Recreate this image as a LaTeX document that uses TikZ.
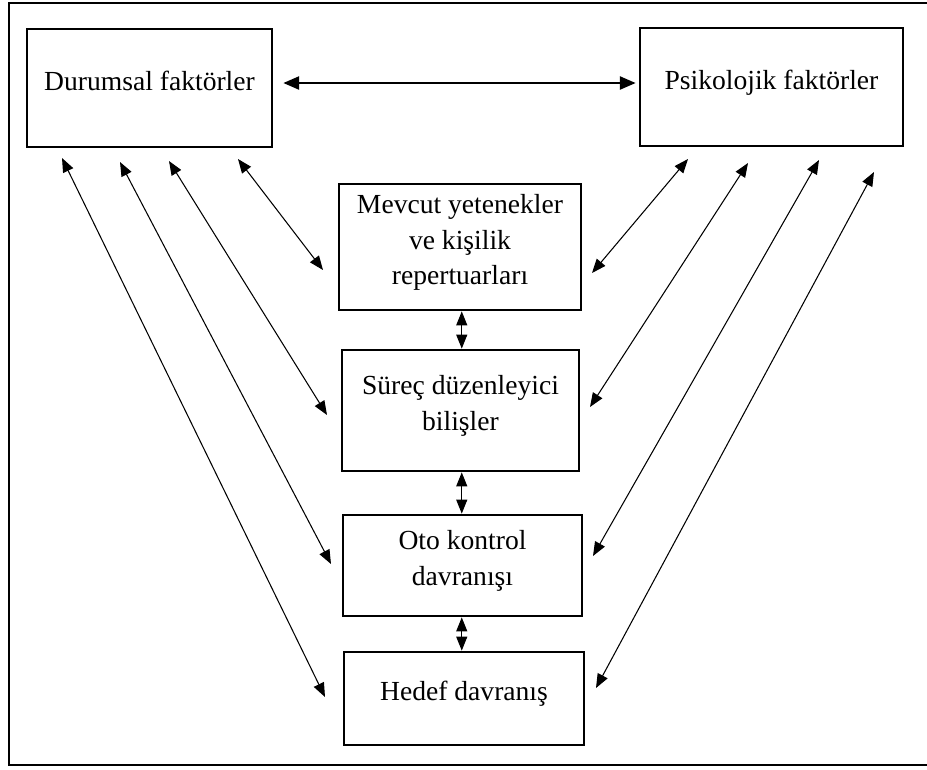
\documentclass[tikz,border=0pt]{standalone}
\usepackage{fontspec}
\setmainfont{Liberation Serif}
\usetikzlibrary{positioning, arrows.meta}

\begin{document}
\begin{tikzpicture}[x=0.02cm, y=-0.02cm, >=Triangle,
    box/.style={draw, line width=1.6pt, rectangle, align=center, inner sep=0pt,
      text depth=0.3cm, font=\fontsize{15.7}{20.4}\selectfont},
    link/.style={<->, line width=0.6pt, >={Triangle[length=8pt, width=6.3pt]}},
    every node/.style={font=\fontsize{15.7}{20.4}\selectfont}]
    \useasboundingbox (0,0) rectangle (927,769);
    % Frame
    \draw[line width=1.2pt] (9,3) rectangle (929,765);

    % Boxes
    \node[box, minimum width=4.90cm, minimum height=2.36cm] (dur) at (149.5,88) {Durumsal faktörler};
    \node[box, minimum width=5.26cm, minimum height=2.36cm] (psi) at (771.5,87) {Psikolojik faktörler};
    \node[box, minimum width=4.84cm, minimum height=2.52cm] (mev) at (460,247) {Mevcut yetenekler\\ve kişilik\\repertuarları};
    \node[box, minimum width=4.74cm, minimum height=2.42cm] (sur) at (460.5,410.5) {Süreç düzenleyici\\bilişler};
    \node[box, minimum width=4.78cm, minimum height=2.02cm] (oto) at (462.5,565.5) {Oto kontrol\\davranışı};
    \node[box, minimum width=4.80cm, minimum height=1.86cm] (hed) at (464,698.5) {Hedef davranış};

    % Top arrow
    \draw[<->, line width=1.1pt, >={Triangle[length=9pt, width=7.5pt]}]
      ([shift={(10,-5)}]dur.east) -- ([shift={(-3,-4)}]psi.west);

    % Vertical arrows
    \draw[link] ([xshift=1]mev.south) -- ([xshift=1]mev.south |- sur.north);
    \draw[link] ([xshift=1]mev.south |- sur.south) -- ([xshift=1]mev.south |- oto.north);
    \draw[link] ([xshift=1]mev.south |- oto.south) -- ([xshift=1]mev.south |- hed.north);

    % Left side ends
    \coordinate (l1) at (62,158);
    \coordinate (l2) at (120,162);
    \coordinate (l3) at (169,161);
    \coordinate (l4) at (238,159);
    \coordinate (lm) at (323,270);
    \coordinate (ls) at (327,415);
    \coordinate (lo) at (331,564);
    \coordinate (lh) at (325,697);
    % Right side ends
    \coordinate (r1) at (688,159);
    \coordinate (r2) at (748,163);
    \coordinate (r3) at (819,160);
    \coordinate (r4) at (874,172);
    \coordinate (rm) at (592,273);
    \coordinate (rs) at (590,407);
    \coordinate (ro) at (593,556);
    \coordinate (rh) at (596,688);

    % Diagonal arrows
    \foreach \a/\b in {l1/lh, l2/lo, l3/ls, l4/lm, r1/rm, r2/rs, r3/ro, r4/rh}
      \draw[link] (\a) -- (\b);
\end{tikzpicture}
\end{document}
